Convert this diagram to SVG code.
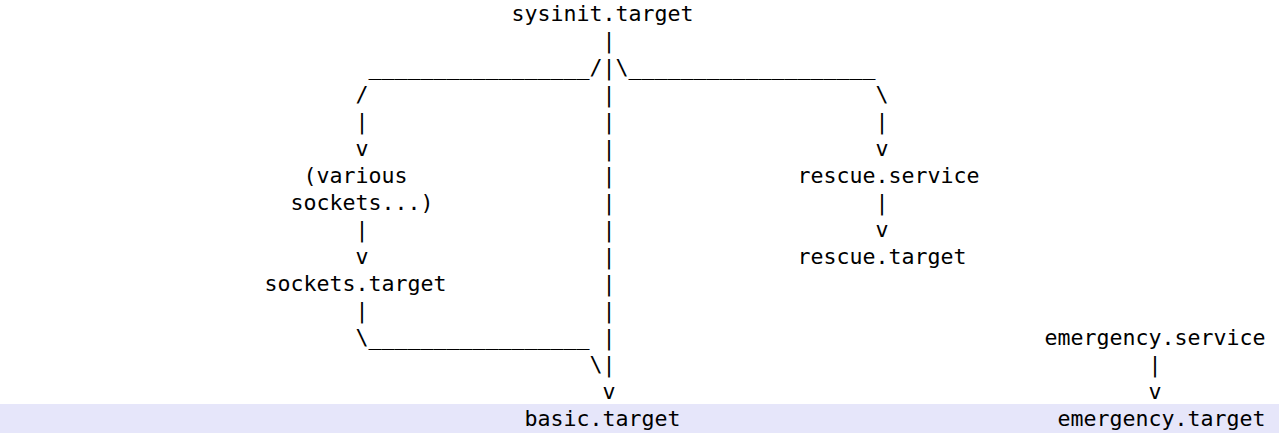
<svg xmlns="http://www.w3.org/2000/svg" width="1279" height="433" viewBox="0 0 1279 433">
<style>
text{font-family:"DejaVu Sans Mono","Liberation Mono",monospace;font-size:21.6px;fill:#000;}
</style>
<rect x="0" y="0" width="1279" height="433" fill="#ffffff"/>
<rect x="0" y="404" width="1279" height="29" fill="#e6e6fa"/>
<g id="connectors">
<text x="602.5" y="47.7">|</text>
<text x="368.5" y="74.7">_________________/|\___________________</text>
<text x="355.5" y="101.7">/</text><text x="602.5" y="101.7">|</text><text x="875.5" y="101.7">\</text>
<text x="355.5" y="128.7">|</text><text x="602.5" y="128.7">|</text><text x="875.5" y="128.7">|</text>
<text x="355.5" y="155.7">v</text><text x="602.5" y="155.7">|</text><text x="875.5" y="155.7">v</text>
<text x="602.5" y="182.7">|</text>
<text x="602.5" y="209.7">|</text><text x="875.5" y="209.7">|</text>
<text x="355.5" y="236.7">|</text><text x="602.5" y="236.7">|</text><text x="875.5" y="236.7">v</text>
<text x="355.5" y="263.7">v</text><text x="602.5" y="263.7">|</text>
<text x="602.5" y="290.7">|</text>
<text x="355.5" y="317.7">|</text><text x="602.5" y="317.7">|</text>
<text x="355.5" y="344.7">\_________________</text><text x="602.5" y="344.7">|</text>
<text x="589.5" y="371.7">\</text><text x="602.5" y="371.7">|</text><text x="1148.5" y="371.7">|</text>
<text x="602.5" y="398.7">v</text><text x="1148.5" y="398.7">v</text>
</g>
<g id="node-sysinit-target"><text x="511.5" y="20.7">sysinit.target</text></g>
<g id="node-various-sockets"><text x="303.5" y="182.7">(various</text><text x="290.5" y="209.7">sockets...)</text></g>
<g id="node-sockets-target"><text x="264.5" y="290.7">sockets.target</text></g>
<g id="node-basic-target"><text x="524.5" y="425.7">basic.target</text></g>
<g id="node-rescue-service"><text x="797.5" y="182.7">rescue.service</text></g>
<g id="node-rescue-target"><text x="797.5" y="263.7">rescue.target</text></g>
<g id="node-emergency-service"><text x="1044.5" y="344.7">emergency.service</text></g>
<g id="node-emergency-target"><text x="1057.5" y="425.7">emergency.target</text></g>
</svg>
